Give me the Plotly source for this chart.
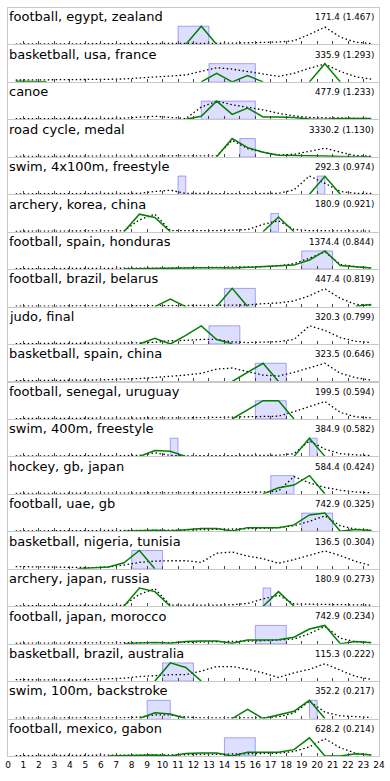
import plotly.graph_objects as go
from plotly.subplots import make_subplots

N = None

hours = [0.5, 1.5, 2.5, 3.5, 4.5, 5.5, 6.5, 7.5, 8.5, 9.5, 10.5, 11.5,
         12.5, 13.5, 14.5, 15.5, 16.5, 17.5, 18.5, 19.5, 20.5, 21.5, 22.5, 23.5]

titles = [
    "football, egypt, zealand", "basketball, usa, france", "canoe",
    "road cycle, medal", "swim, 4x100m, freestyle", "archery, korea, china",
    "football, spain, honduras", "football, brazil, belarus", "judo, final",
    "basketball, spain, china", "football, senegal, uruguay",
    "swim, 400m, freestyle", "hockey, gb, japan", "football, uae, gb",
    "basketball, nigeria, tunisia", "archery, japan, russia",
    "football, japan, morocco", "basketball, brazil, australia",
    "swim, 100m, backstroke", "football, mexico, gabon",
]
totals = [171.4, 335.9, 477.9, 3330.2, 292.3, 180.9, 1374.4, 447.4, 320.3, 323.5,
          199.5, 384.9, 584.4, 742.9, 136.5, 180.9, 742.9, 115.3, 352.2, 628.2]
scores = [1.467, 1.293, 1.233, 1.130, 0.974, 0.921, 0.844, 0.819, 0.799, 0.646,
          0.594, 0.582, 0.424, 0.325, 0.304, 0.273, 0.234, 0.222, 0.217, 0.214]

# dotted = usual activity, green = activity for this term, boxes = event windows
p01_dot = [0.02, 0.02, 0.02, 0.02, 0.02, 0.03, 0.03, 0.04, 0.05, 0.05, 0.05, 0.04, 0.04, 0.06, 0.07, 0.09, 0.11, 0.13, 0.2, 0.55, 0.95, 0.4, 0.12, 0.05]
p01_grn = [N, N, N, N, N, N, N, N, N, N, N, 0, 1.0, 0, N, N, N, N, N, N, N, N, N, N]
p01_box = [(11, 13)]

p02_dot = [0.1, 0.1, 0.11, 0.11, 0.12, 0.13, 0.14, 0.16, 0.2, 0.25, 0.32, 0.38, 0.57, 0.78, 0.7, 0.57, 0.43, 0.3, 0.47, 0.75, 0.98, 0.57, 0.28, 0.15]
p02_grn = [0.03, 0.01, 0, N, N, N, N, N, N, N, N, N, 0, 0.47, 0, 0.34, 0, N, N, 0, 1.0, 0, N, N]
p02_box = [(13, 16)]

p03_dot = [0.03, 0.03, 0.03, 0.03, 0.03, 0.04, 0.05, 0.06, 0.12, 0.17, 0.1, 0.04, 0.67, 1.0, 0.8, 0.67, 0.52, 0.33, 0.19, 0.1, 0.08, 0.06, 0.04, 0.04]
p03_grn = [N, N, N, N, N, N, N, N, N, N, N, 0, 0.17, 1.0, 0.27, 0.62, 0.13, 0.13, 0.1, 0.02, 0.0, 0.04, 0.04, 0.04]
p03_box = [(12.5, 16)]

p04_dot = [0.02, 0.02, 0.02, 0.02, 0.02, 0.02, 0.02, 0.03, 0.03, 0.03, 0.03, 0.03, 0.04, 0.05, 0.9, 0.45, 0.25, 0.1, 0.13, 0.28, 0.47, 0.25, 0.06, 0.03]
p04_grn = [N, N, N, N, N, N, N, N, N, N, N, N, N, 0, 1.0, 0.5, 0.25, 0.09, 0.06, 0.06, 0.04, 0.02, 0.0, 0.0]
p04_box = [(15, 16)]

p05_dot = [0.02, 0.02, 0.02, 0.02, 0.02, 0.02, 0.02, 0.03, 0.05, 0.15, 0.22, 0.05, 0.03, 0.03, 0.03, 0.03, 0.03, 0.05, 0.24, 1.0, 0.6, 0.15, 0.05, 0.04]
p05_grn = [N, N, N, N, N, N, N, N, N, N, N, N, N, N, N, N, N, N, N, 0, 0.98, 0, N, N]
p05_box = [(11, 11.5), (20, 20.5)]

p06_dot = [0.02, 0.02, 0.02, 0.02, 0.02, 0.02, 0.03, 0.05, 0.65, 0.96, 0.06, 0.05, 0.05, 0.06, 0.08, 0.12, 0.4, 0.6, 0.12, 0.05, 0.05, 0.04, 0.04, 0.03]
p06_grn = [N, N, N, N, N, N, N, 0, 0.96, 0.78, 0, N, N, N, N, N, 0, 0.81, 0, N, N, N, N, N]
p06_box = [(17, 17.5)]

p07_dot = [0.02, 0.02, 0.02, 0.02, 0.02, 0.03, 0.03, 0.04, 0.05, 0.06, 0.06, 0.07, 0.08, 0.08, 0.08, 0.1, 0.13, 0.18, 0.3, 0.6, 0.95, 0.25, 0.13, 0.07]
p07_grn = [N, N, N, N, N, N, N, 0.0, 0.02, 0.04, 0.04, 0.06, 0.08, 0.08, 0.06, 0.1, 0.14, 0.16, 0.22, 0.5, 1.0, 0.2, 0.12, 0.06]
p07_box = [(19, 21)]

p08_dot = [0.02, 0.02, 0.02, 0.02, 0.02, 0.03, 0.03, 0.04, 0.04, 0.05, 0.05, 0.05, 0.06, 0.07, 0.08, 0.09, 0.16, 0.2, 0.31, 0.6, 0.98, 0.45, 0.12, 0.06]
p08_grn = [N, N, N, N, N, N, N, N, N, 0, 0.41, 0, N, 0, 1.0, 0, N, N, N, N, N, N, 0.02, 0.12]
p08_box = [(14, 16)]

p09_dot = [0.02, 0.02, 0.02, 0.02, 0.02, 0.03, 0.03, 0.04, 0.06, 0.1, 0.18, 0.2, 0.25, 0.25, 0.12, 0.08, 0.09, 0.13, 0.25, 1.0, 0.75, 0.35, 0.15, 0.08]
p09_grn = [N, N, N, N, N, N, N, N, 0, 0.31, 0, 0.47, 1.0, 0.25, 0.02, N, N, N, N, N, N, N, N, N]
p09_box = [(13, 15)]

p10_dot = [0.04, 0.04, 0.04, 0.05, 0.06, 0.08, 0.1, 0.12, 0.16, 0.22, 0.28, 0.35, 0.45, 0.68, 0.74, 0.55, 0.35, 0.3, 0.5, 0.75, 1.0, 0.45, 0.2, 0.08]
p10_grn = [N, N, N, N, N, N, N, N, N, N, N, N, N, N, 0, 0.5, 1.0, 0, N, N, N, N, N, N]
p10_box = [(16, 18)]

p11_dot = [0.02, 0.02, 0.02, 0.02, 0.02, 0.03, 0.03, 0.04, 0.05, 0.05, 0.06, 0.06, 0.07, 0.08, 0.1, 0.11, 0.11, 0.15, 0.4, 0.68, 0.96, 0.36, 0.11, 0.06]
p11_grn = [N, N, N, N, N, N, N, N, N, N, N, N, N, N, 0, 0.5, 1.0, 1.0, 0, N, N, N, N, N]
p11_box = [(16, 18)]

p12_dot = [0.02, 0.02, 0.02, 0.02, 0.02, 0.02, 0.03, 0.03, 0.05, 0.2, 0.05, 0.03, 0.03, 0.03, 0.03, 0.03, 0.04, 0.06, 0.15, 0.85, 0.4, 0.15, 0.08, 0.04]
p12_grn = [N, N, N, N, N, N, N, N, 0, 0.32, 0.28, 0, N, N, N, N, N, N, 0, 1.0, 0, N, N, N]
p12_box = [(10.5, 11), (19.5, 20)]

p13_dot = [0.02, 0.02, 0.02, 0.02, 0.02, 0.02, 0.03, 0.03, 0.04, 0.04, 0.05, 0.05, 0.06, 0.06, 0.07, 0.08, 0.1, 0.15, 0.95, 0.6, 0.35, 0.2, 0.1, 0.06]
p13_grn = [N, N, N, N, N, N, N, N, N, N, N, N, N, N, N, N, 0, 0.33, 0.48, 1.0, 0, N, N, N]
p13_box = [(17, 18.5)]

p14_dot = [0.02, 0.02, 0.02, 0.02, 0.02, 0.03, 0.03, 0.04, 0.05, 0.06, 0.06, 0.07, 0.08, 0.1, 0.1, 0.14, 0.16, 0.2, 0.3, 0.55, 0.85, 0.3, 0.12, 0.06]
p14_grn = [N, N, N, N, N, N, N, 0.0, 0.04, 0.06, 0.02, 0.1, 0.15, 0.15, 0.02, 0.2, 0.2, 0.2, 0.35, 0.9, 1.0, 0.0, 0.1, 0.04]
p14_box = [(19, 21)]

p15_dot = [0.12, 0.1, 0.08, 0.06, 0.05, 0.06, 0.1, 0.2, 0.35, 0.42, 0.44, 0.44, 0.35, 0.85, 0.92, 0.7, 0.55, 0.3, 0.5, 0.75, 0.98, 0.72, 0.4, 0.17]
p15_grn = [N, N, N, N, 0, 0.04, 0.1, 0.33, 1.0, 0, N, N, N, N, N, N, N, N, N, N, N, N, N, N]
p15_box = [(8, 10)]

p16_dot = [0.02, 0.02, 0.02, 0.02, 0.02, 0.02, 0.03, 0.05, 0.65, 0.96, 0.06, 0.05, 0.05, 0.06, 0.08, 0.15, 0.4, 0.6, 0.12, 0.1, 0.1, 0.09, 0.08, 0.06]
p16_grn = [N, N, N, N, N, N, N, 0, 1.0, 0.8, 0, N, N, N, N, N, 0, 0.8, 0, N, N, N, N, N]
p16_box = [(16.5, 17)]

p17_dot = [0.02, 0.02, 0.02, 0.02, 0.02, 0.03, 0.03, 0.04, 0.05, 0.06, 0.06, 0.07, 0.08, 0.1, 0.1, 0.14, 0.16, 0.2, 0.25, 0.55, 0.95, 0.3, 0.1, 0.06]
p17_grn = [N, N, N, N, N, N, N, 0.0, 0.04, 0.06, 0.02, 0.12, 0.15, 0.15, 0.02, 0.2, 0.2, 0.22, 0.35, 0.8, 1.0, 0.0, 0.12, 0.05]
p17_box = [(16, 18)]

p18_dot = [0.08, 0.06, 0.06, 0.06, 0.06, 0.08, 0.12, 0.16, 0.25, 0.3, 0.35, 0.35, 0.55, 0.8, 0.8, 0.65, 0.45, 0.2, 0.45, 0.65, 0.95, 0.6, 0.25, 0.1]
p18_grn = [N, N, N, N, N, N, N, N, N, 0, 1.0, 0.75, 0, N, N, N, N, N, N, N, N, N, N, N]
p18_box = [(10, 12)]

p19_dot = [0.02, 0.02, 0.02, 0.02, 0.02, 0.02, 0.03, 0.04, 0.08, 0.2, 0.2, 0.08, 0.04, 0.03, 0.03, 0.03, 0.04, 0.1, 0.3, 0.95, 0.35, 0.15, 0.1, 0.06]
p19_grn = [N, N, N, N, N, N, N, N, 0, 0.32, 0.25, 0, N, N, 0, 0.5, 0, 0.2, 0.4, 1.0, 0, N, N, N]
p19_box = [(9, 10.5), (19.5, 20)]

p20_dot = [0.02, 0.02, 0.02, 0.02, 0.02, 0.03, 0.03, 0.04, 0.05, 0.06, 0.06, 0.07, 0.08, 0.1, 0.1, 0.14, 0.15, 0.15, 0.25, 0.5, 0.95, 0.45, 0.15, 0.06]
p20_grn = [N, N, N, N, N, N, 0.0, 0.02, 0.04, 0.06, 0.0, 0.14, 0.16, 0.16, 0.0, 0.2, 0.2, 0.2, 0.35, 1.0, 0.0, 0.0, 0.12, 0.05]
p20_box = [(14, 16)]

panels = [
    (p01_dot, p01_grn, p01_box), (p02_dot, p02_grn, p02_box), (p03_dot, p03_grn, p03_box),
    (p04_dot, p04_grn, p04_box), (p05_dot, p05_grn, p05_box), (p06_dot, p06_grn, p06_box),
    (p07_dot, p07_grn, p07_box), (p08_dot, p08_grn, p08_box), (p09_dot, p09_grn, p09_box),
    (p10_dot, p10_grn, p10_box), (p11_dot, p11_grn, p11_box), (p12_dot, p12_grn, p12_box),
    (p13_dot, p13_grn, p13_box), (p14_dot, p14_grn, p14_box), (p15_dot, p15_grn, p15_box),
    (p16_dot, p16_grn, p16_box), (p17_dot, p17_grn, p17_box), (p18_dot, p18_grn, p18_box),
    (p19_dot, p19_grn, p19_box), (p20_dot, p20_grn, p20_box),
]

rows = len(panels)
fig = make_subplots(rows=rows, cols=1, shared_xaxes=True, vertical_spacing=0.0014)

for i, (dot, grn, boxes) in enumerate(panels):
    r = i + 1
    for x0, x1 in boxes:
        fig.add_shape(type="rect", x0=x0, x1=x1, y0=0, y1=1, xref="x", yref="y",
                      fillcolor="rgba(0,0,255,0.13)", line=dict(color="rgba(0,0,255,0.33)", width=1),
                      layer="below", row=r, col=1)
    fig.add_trace(go.Scatter(x=hours, y=dot, mode="lines",
                             line=dict(color="black", width=1.3, dash="1.5px,2.5px")), row=r, col=1)
    fig.add_trace(go.Scatter(x=hours, y=grn, mode="lines", connectgaps=False,
                             line=dict(color="#008000", width=1.5)), row=r, col=1)
    fig.add_annotation(text=titles[i], xref="x domain", yref="y domain", x=-0.004, y=1.02,
                       xanchor="left", yanchor="top", showarrow=False,
                       font=dict(size=13, color="black"), row=r, col=1)
    fig.add_annotation(text=f"{totals[i]:.1f} ({scores[i]:.3f})", xref="x domain", yref="y domain",
                       x=0.992, y=0.94, xanchor="right", yanchor="top", showarrow=False,
                       font=dict(size=8.7, color="black"), row=r, col=1)

fig.update_xaxes(range=[0, 24], tickmode="linear", tick0=0, dtick=1,
                 ticks="inside", ticklen=3, tickwidth=1, tickcolor="#444",
                 showgrid=False, zeroline=False, showline=True, mirror=True,
                 linecolor="#c8c8c8", linewidth=1, tickfont=dict(size=9, color="black"))
fig.update_yaxes(range=[0, 2.0], showticklabels=False, ticks="", showgrid=False,
                 zeroline=False, showline=True, mirror=True, linecolor="#c8c8c8", linewidth=1)

fig.update_layout(
    width=390, height=781,
    margin=dict(l=5, r=8, t=8, b=25),
    plot_bgcolor="white", paper_bgcolor="white",
    showlegend=False,
    font=dict(family="DejaVu Sans"),
)

# the page's default body margin would shift the figure; drop it
fig.write_html("out.html", config={"displayModeBar": False},
               post_script="document.body.style.margin='0';")
